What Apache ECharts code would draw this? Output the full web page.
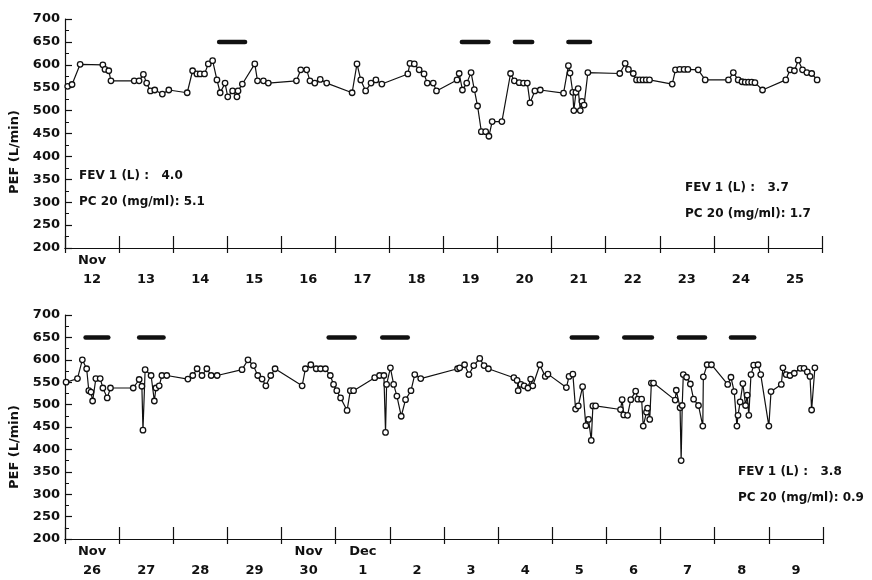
<!DOCTYPE html>
<html><head><meta charset="utf-8">
<script src="https://cdn.jsdelivr.net/npm/echarts@6/dist/echarts.min.js"></script>
<style>html,body{margin:0;padding:0;background:#fff}#c{width:872px;height:580px}</style>
</head><body><div id="c"></div>
<script>
// ---- data (x = days since start of first labelled day, y = PEF L/min) ----
var topDayLabels = ['12','13','14','15','16','17','18','19','20','21','22','23','24','25'];
var topMonthLabels = ['Nov','','','','','','','','','','','','',''];
var botDayLabels = ['26','27','28','29','30','1','2','3','4','5','6','7','8','9'];
var botMonthLabels = ['Nov','','','','Nov','Dec','','','','','','','',''];
var yTicks = [200,250,300,350,400,450,500,550,600,650,700];

var topX = [0.05,0.13,0.28,0.70,0.74,0.81,0.85,1.28,1.37,1.45,1.51,1.58,1.66,1.80,1.92,2.26,2.36,2.44,2.50,2.58,2.65,2.73,2.81,2.87,2.96,3.01,3.10,3.18,3.20,3.28,3.51,3.56,3.67,3.76,4.28,4.36,4.47,4.53,4.62,4.72,4.84,5.31,5.40,5.47,5.56,5.66,5.75,5.86,6.34,6.38,6.46,6.55,6.64,6.70,6.81,6.87,7.25,7.29,7.35,7.43,7.51,7.57,7.63,7.70,7.78,7.84,7.90,8.08,8.24,8.31,8.40,8.48,8.55,8.60,8.69,8.79,9.22,9.31,9.34,9.39,9.41,9.45,9.49,9.53,9.56,9.60,9.67,10.26,10.36,10.42,10.51,10.57,10.63,10.69,10.75,10.81,11.23,11.29,11.37,11.45,11.52,11.71,11.84,12.27,12.36,12.45,12.52,12.58,12.64,12.70,12.76,12.90,13.33,13.41,13.49,13.56,13.64,13.72,13.81,13.91];
var topPEF = [553,557,601,600,590,587,565,565,565,579,560,543,545,536,545,539,587,580,580,580,602,609,567,539,560,530,543,530,543,558,602,565,565,560,565,589,589,565,560,568,560,539,602,567,543,560,567,558,580,603,602,589,580,560,560,543,567,581,545,560,583,546,510,454,454,444,476,476,581,565,561,560,560,517,543,545,538,598,582,540,500,540,548,500,520,512,583,581,603,590,581,567,567,567,567,567,558,589,590,590,590,589,567,567,583,567,563,562,562,562,561,545,567,589,587,610,589,583,581,567];

var botX = [0.02,0.23,0.32,0.40,0.44,0.48,0.51,0.57,0.65,0.70,0.78,0.84,1.26,1.37,1.42,1.44,1.48,1.59,1.65,1.68,1.74,1.79,1.88,2.27,2.36,2.44,2.53,2.62,2.70,2.81,3.27,3.38,3.48,3.56,3.64,3.71,3.80,3.88,4.38,4.44,4.54,4.64,4.72,4.81,4.90,4.96,5.02,5.09,5.21,5.27,5.33,5.72,5.81,5.89,5.92,5.94,6.01,6.07,6.13,6.21,6.29,6.39,6.46,6.57,7.25,7.29,7.38,7.46,7.55,7.66,7.74,7.82,8.29,8.35,8.37,8.42,8.48,8.55,8.60,8.64,8.77,8.87,8.92,9.26,9.31,9.38,9.43,9.48,9.56,9.62,9.67,9.72,9.75,9.80,10.26,10.29,10.32,10.39,10.45,10.54,10.58,10.65,10.68,10.74,10.76,10.80,10.83,10.87,11.27,11.29,11.36,11.38,11.40,11.42,11.48,11.55,11.61,11.70,11.78,11.79,11.86,11.94,12.24,12.30,12.36,12.41,12.43,12.47,12.52,12.57,12.60,12.63,12.67,12.72,12.80,12.85,13.00,13.04,13.23,13.26,13.32,13.39,13.47,13.58,13.65,13.71,13.76,13.79,13.85];
var botPEF = [550,558,600,580,531,528,508,558,558,537,515,537,537,556,541,443,578,565,508,537,542,565,565,557,565,580,565,580,565,565,578,600,587,565,557,542,565,580,542,580,589,580,580,580,565,545,531,515,487,531,531,560,565,565,438,545,582,545,519,474,511,531,567,558,580,582,589,567,587,603,587,580,560,554,531,545,542,537,557,542,589,563,568,538,563,568,490,497,540,453,467,420,497,497,489,511,477,476,511,530,512,512,452,483,492,467,548,548,510,532,493,375,498,567,561,546,512,498,452,562,589,589,545,561,529,452,476,506,547,498,521,476,567,588,589,567,452,529,545,582,567,565,570,581,581,573,563,488,582];

// exposure periods drawn at 650
var topBars = [[2.85,3.33],[7.34,7.83],[8.32,8.64],[9.31,9.71]];
var botBars = [[0.38,0.80],[1.37,1.82],[4.87,5.35],[5.86,6.33],[9.36,9.83],[10.33,10.84],[11.34,11.82],[12.30,12.73]];
var barLevel = 650;

var topNotes = [['FEV 1 (L) :   4.0','PC 20 (mg/ml): 5.1'],['FEV 1 (L) :   3.7','PC 20 (mg/ml): 1.7']];
var botNotes = [['FEV 1 (L) :   3.8','PC 20 (mg/ml): 0.9']];

// ---- chart ----
var FONT = 'DejaVu Sans';
var INK = '#111';
function zip(xs, ys){ return xs.map(function(x,i){ return [x, ys[i]]; }); }

var grids = [
  {left:65, top:19, width:757, height:229},
  {left:65, top:315, width:758, height:232}
];
var xAxes = [], yAxes = [], series = [];
[[topDayLabels, topMonthLabels],[botDayLabels, botMonthLabels]].forEach(function(p, g){
  xAxes.push({type:'value', gridIndex:g, min:0, max:14, show:false});
  xAxes.push({type:'category', gridIndex:g, data:p[0], boundaryGap:true, position:'bottom', show:true,
    axisLine:{show:true, lineStyle:{color:INK, width:1.2}},
    axisTick:{show:true, interval:0, inside:true, length:12, lineStyle:{color:INK, width:1.2}},
    axisLabel:{show:false}});
  xAxes.push({type:'category', gridIndex:g, data:p[0], boundaryGap:true, position:'bottom', show:true,
    axisLine:{show:true, lineStyle:{color:INK, width:1.2}},
    axisTick:{show:true, interval:0, inside:false, length:5, lineStyle:{color:INK, width:1.2}},
    axisLabel:{show:true, interval:0, margin:3, color:INK, fontFamily:FONT, fontSize:13, fontWeight:'bold', lineHeight:19,
      formatter:function(v, i){ return (p[1][i] || ' ') + '\n' + v; }}});
  yAxes.push({type:'value', gridIndex:g, min:yTicks[0], max:yTicks[yTicks.length-1], interval:yTicks[1]-yTicks[0],
    axisLine:{show:true, lineStyle:{color:INK, width:1.2}},
    axisTick:{show:true, inside:true, length:7, lineStyle:{color:INK, width:1.2}},
    minorTick:{show:true, splitNumber:2, length:4, lineStyle:{color:INK, width:1}},
    splitLine:{show:false},
    axisLabel:{margin:5, color:INK, fontFamily:FONT, fontSize:13, fontWeight:'bold'}});
});

function addLine(g, data){
  series.push({type:'line', xAxisIndex:g*3, yAxisIndex:g, data:data,
    symbol:'circle', symbolSize:5.5, showSymbol:true,
    itemStyle:{color:'#fff', borderColor:INK, borderWidth:1.3},
    lineStyle:{color:INK, width:1.2}, z:3});
}
function addBars(g, bars){
  bars.forEach(function(b){
    series.push({type:'line', xAxisIndex:g*3, yAxisIndex:g, data:[[b[0],barLevel],[b[1],barLevel]],
      symbol:'none', lineStyle:{color:INK, width:4.5, cap:'round'}, z:2});
  });
}
addLine(0, zip(topX, topPEF));
addLine(1, zip(botX, botPEF));
addBars(0, topBars);
addBars(1, botBars);

function note(x, y, t){
  return {type:'text', left:x, top:y, style:{text:t, fill:INK, font:'bold 12px ' + FONT, textVerticalAlign:'middle'}};
}
var graphics = [
  {type:'text', x:15, y:152, rotation:Math.PI/2, style:{text:'PEF (L/min)', fill:INK, font:'bold 13px ' + FONT, textAlign:'center', textVerticalAlign:'middle'}},
  {type:'text', x:15, y:447, rotation:Math.PI/2, style:{text:'PEF (L/min)', fill:INK, font:'bold 13px ' + FONT, textAlign:'center', textVerticalAlign:'middle'}}
];
[[topNotes[0],79,170],[topNotes[1],685,182],[botNotes[0],738,466]].forEach(function(n){
  graphics.push(note(n[1], n[2], n[0][0]));
  graphics.push(note(n[1], n[2]+26, n[0][1]));
});

var chart = echarts.init(document.getElementById('c'), null, {renderer:'canvas'});
chart.setOption({animation:false, backgroundColor:'#fff', grid:grids, xAxis:xAxes, yAxis:yAxes, series:series, graphic:graphics});
</script></body></html>
